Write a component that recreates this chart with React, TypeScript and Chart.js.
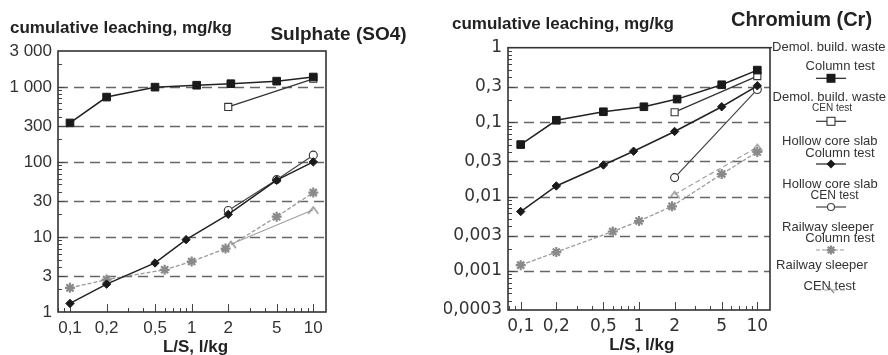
import React, { useEffect, useRef } from "react";
import { Chart, registerables } from "chart.js";
Chart.register(...registerables);

// ---------- data ----------
const xTickValues = [0.1, 0.2, 0.5, 1, 2, 5, 10];
const xTickLabels = ["0,1", "0,2", "0,5", "1", "2", "5", "10"];

const so4TickValues = [1, 3, 10, 30, 100, 300, 1000, 3000];
const so4TickLabels = ["1", "3", "10", "30", "100", "300", "1 000", "3 000"];
const crTickValues = [0.0003, 0.001, 0.003, 0.01, 0.03, 0.1, 0.3, 1];
const crTickLabels = ["0,0003", "0,001", "0,003", "0,01", "0,03", "0,1", "0,3", "1"];

const seriesNames = [
  "Demol. build. waste Column test",
  "Demol. build. waste CEN test",
  "Hollow core slab Column test",
  "Hollow core slab CEN test",
  "Railway sleeper Column test",
  "Railway sleeper CEN test",
];

// Sulphate (SO4), mg/kg
const so4DemolColumnX = [0.1, 0.2, 0.5, 1.1, 2.1, 5, 10];
const so4DemolColumnY = [330, 730, 990, 1050, 1100, 1190, 1350];
const so4DemolCenX = [2, 10];
const so4DemolCenY = [540, 1280];
const so4HollowColumnX = [0.1, 0.2, 0.5, 0.9, 2, 5, 10];
const so4HollowColumnY = [1.3, 2.35, 4.5, 9.2, 20, 57, 100];
const so4HollowCenX = [2, 5, 10];
const so4HollowCenY = [22.5, 58, 123];
const so4RailColumnX = [0.1, 0.2, 0.6, 1, 1.9, 5, 10];
const so4RailColumnY = [2.1, 2.7, 3.65, 4.7, 7.0, 18.6, 39];
const so4RailCenX = [2.1, 10];
const so4RailCenY = [8, 23];

// Chromium (Cr), mg/kg
const crDemolColumnX = [0.1, 0.2, 0.5, 1.1, 2.1, 5, 10];
const crDemolColumnY = [0.05, 0.106, 0.138, 0.161, 0.204, 0.318, 0.5];
const crDemolCenX = [2, 10];
const crDemolCenY = [0.136, 0.416];
const crHollowColumnX = [0.1, 0.2, 0.5, 0.9, 2, 5, 10];
const crHollowColumnY = [0.0063, 0.0139, 0.0266, 0.0407, 0.075, 0.161, 0.308];
const crHollowCenX = [2, 10];
const crHollowCenY = [0.018, 0.275];
const crRailColumnX = [0.1, 0.2, 0.6, 1, 1.9, 5, 10];
const crRailColumnY = [0.0012, 0.0018, 0.0034, 0.0047, 0.0074, 0.0201, 0.0398];
const crRailCenX = [2, 10];
const crRailCenY = [0.0107, 0.046];

const legendTexts = [
  ["Demol. build. waste", "Column test"],
  ["Demol. build. waste", "CEN test"],
  ["Hollow core slab", "Column test"],
  ["Hollow core slab", "CEN test"],
  ["Railway sleeper", "Column test"],
  ["Railway sleeper", "CEN test"],
];

// ---------- helpers ----------
const FONT = '"Liberation Sans", Arial, Helvetica, sans-serif';
const WIDE = '"DejaVu Sans", "Liberation Sans", sans-serif';

function zip(xs: number[], ys: number[]) {
  return xs.map((x, i) => ({ x, y: ys[i] }));
}

function makeTri(color: string) {
  const c = document.createElement("canvas");
  c.width = 12;
  c.height = 12;
  const g = c.getContext("2d")!;
  g.strokeStyle = color;
  g.lineWidth = 1.3;
  g.beginPath();
  g.moveTo(1, 10);
  g.lineTo(6, 3);
  g.lineTo(11, 10);
  g.stroke();
  return c;
}

function styles(railCenDash: number[]) {
  return [
    { pointStyle: "rect", pointRadius: 5.4, pointBackgroundColor: "#1a1a1a", pointBorderColor: "#1a1a1a", pointBorderWidth: 1, borderColor: "#222", borderWidth: 1.5, borderDash: [] as number[] },
    { pointStyle: "rect", pointRadius: 5, pointBackgroundColor: "#ffffff", pointBorderColor: "#333", pointBorderWidth: 1.1, borderColor: "#333", borderWidth: 1.3, borderDash: [] as number[] },
    { pointStyle: "rectRot", pointRadius: 4.2, pointBackgroundColor: "#1a1a1a", pointBorderColor: "#1a1a1a", pointBorderWidth: 1, borderColor: "#222", borderWidth: 1.5, borderDash: [] as number[] },
    { pointStyle: "circle", pointRadius: 4, pointBackgroundColor: "#ffffff", pointBorderColor: "#333", pointBorderWidth: 1.1, borderColor: "#444", borderWidth: 1.2, borderDash: [] as number[] },
    { pointStyle: "star", pointRadius: 5, pointBackgroundColor: "#8a8a8a", pointBorderColor: "#8a8a8a", pointBorderWidth: 2.2, borderColor: "#9a9a9a", borderWidth: 1.3, borderDash: [4, 2] },
    { pointStyle: makeTri("#8a8a8a") as any, pointRadius: 5, pointBackgroundColor: "#8a8a8a", pointBorderColor: "#8a8a8a", pointBorderWidth: 1, borderColor: "#a0a0a0", borderWidth: 1.2, borderDash: railCenDash },
  ];
}

function makeDatasets(series: { x: number; y: number }[][], railCenDash: number[]) {
  const st = styles(railCenDash);
  return series.map((data, i) => ({
    label: seriesNames[i],
    data,
    ...st[i],
    fill: false,
    tension: 0,
    clip: false as any,
  }));
}

function framePlugin(yTicks: number[]) {
  return {
    id: "frame",
    beforeDatasetsDraw(chart: any) {
      const { ctx, chartArea } = chart;
      const { left, right, top, bottom } = chartArea;
      const xs = chart.scales.x;
      const ys = chart.scales.y;
      ctx.save();
      // dashed gridlines at inner major ticks
      ctx.strokeStyle = "#666";
      ctx.lineWidth = 1.5;
      ctx.setLineDash([10, 6]);
      yTicks.forEach((v, i) => {
        if (i === 0 || i === yTicks.length - 1) return;
        const py = Math.round(ys.getPixelForValue(v)) + 0.5;
        ctx.beginPath();
        ctx.moveTo(left, py);
        ctx.lineTo(right, py);
        ctx.stroke();
      });
      ctx.setLineDash([]);
      // minor / major ticks
      ctx.strokeStyle = "#444";
      ctx.lineWidth = 1;
      for (let n = -5; n <= 4; n++) {
        for (let k = 1; k <= 9; k++) {
          const v = k * Math.pow(10, n);
          if (v > xs.min && v < xs.max) {
            const major = xTickValues.some((t) => Math.abs(t - v) / v < 1e-6);
            const px = Math.round(xs.getPixelForValue(v)) + 0.5;
            ctx.beginPath();
            ctx.moveTo(px, bottom);
            ctx.lineTo(px, bottom - (major ? 8 : 4));
            ctx.stroke();
          }
          if (v > ys.min * 1.0001 && v < ys.max * 0.9999) {
            const major = yTicks.some((t) => Math.abs(t - v) / v < 1e-6);
            const py = Math.round(ys.getPixelForValue(v)) + 0.5;
            ctx.beginPath();
            ctx.moveTo(left, py);
            ctx.lineTo(left + (major ? 7 : 4), py);
            ctx.stroke();
          }
        }
      }
      // box
      ctx.strokeStyle = "#333";
      ctx.lineWidth = 1.6;
      ctx.strokeRect(left, top, right - left, bottom - top);
      ctx.restore();
    },
  };
}

type TextItem = { text: string; x: number; y: number; font: string; align?: CanvasTextAlign; color?: string };

function textPlugin(items: TextItem[], extra?: (ctx: CanvasRenderingContext2D, chart: any) => void) {
  return {
    id: "texts",
    afterDraw(chart: any) {
      const ctx: CanvasRenderingContext2D = chart.ctx;
      ctx.save();
      ctx.textBaseline = "middle";
      items.forEach((it) => {
        ctx.font = it.font;
        ctx.fillStyle = it.color || "#222";
        ctx.textAlign = it.align || "left";
        ctx.fillText(it.text, it.x, it.y);
      });
      if (extra) extra(ctx, chart);
      ctx.restore();
    },
  };
}

function drawMarker(ctx: CanvasRenderingContext2D, kind: number, x: number, y: number) {
  ctx.save();
  ctx.setLineDash([]);
  if (kind === 0) {
    ctx.fillStyle = "#1a1a1a";
    ctx.fillRect(x - 4.5, y - 4.5, 9, 9);
  } else if (kind === 1) {
    ctx.fillStyle = "#fff";
    ctx.strokeStyle = "#333";
    ctx.lineWidth = 1.1;
    ctx.fillRect(x - 4, y - 4, 8, 8);
    ctx.strokeRect(x - 4, y - 4, 8, 8);
  } else if (kind === 2) {
    ctx.fillStyle = "#1a1a1a";
    ctx.beginPath();
    ctx.moveTo(x, y - 4.5);
    ctx.lineTo(x + 4.5, y);
    ctx.lineTo(x, y + 4.5);
    ctx.lineTo(x - 4.5, y);
    ctx.closePath();
    ctx.fill();
  } else if (kind === 3) {
    ctx.fillStyle = "#fff";
    ctx.strokeStyle = "#444";
    ctx.lineWidth = 1.1;
    ctx.beginPath();
    ctx.arc(x, y, 3.5, 0, Math.PI * 2);
    ctx.fill();
    ctx.stroke();
  } else if (kind === 4) {
    ctx.strokeStyle = "#8a8a8a";
    ctx.lineWidth = 2.2;
    for (let i = 0; i < 4; i++) {
      const a = (i * Math.PI) / 4;
      ctx.beginPath();
      ctx.moveTo(x - Math.cos(a) * 4.5, y - Math.sin(a) * 4.5);
      ctx.lineTo(x + Math.cos(a) * 4.5, y + Math.sin(a) * 4.5);
      ctx.stroke();
    }
  } else {
    ctx.strokeStyle = "#8a8a8a";
    ctx.lineWidth = 1.2;
    ctx.beginPath();
    ctx.moveTo(x - 3, y - 4);
    ctx.lineTo(x + 3, y + 3);
    ctx.stroke();
  }
  ctx.restore();
}

function makeConfig(opts: {
  datasets: any[];
  yMin: number;
  yMax: number;
  xMin: number;
  xMax: number;
  yTicks: number[];
  yLabels: string[];
  yWidth: number;
  xHeight: number;
  top: number;
  tickFont: string;
  plugins: any[];
}) {
  return {
    type: "line" as const,
    data: { datasets: opts.datasets },
    options: {
      animation: false as const,
      responsive: false,
      devicePixelRatio: 1,
      layout: { padding: { left: 0, right: 118, top: opts.top, bottom: 0 } },
      plugins: { legend: { display: false }, tooltip: { enabled: false }, title: { display: false } },
      scales: {
        x: {
          type: "logarithmic" as const,
          min: opts.xMin,
          max: opts.xMax,
          grid: { display: false, drawTicks: false },
          border: { display: false },
          afterBuildTicks: (s: any) => {
            s.ticks = xTickValues.map((v) => ({ value: v }));
          },
          afterFit: (s: any) => {
            s.height = opts.xHeight;
          },
          ticks: {
            autoSkip: false,
            maxRotation: 0,
            padding: 6,
            color: "#333",
            font: { family: opts.tickFont, size: 17 },
            callback: (_v: any, i: number) => xTickLabels[i],
          },
        },
        y: {
          type: "logarithmic" as const,
          min: opts.yMin,
          max: opts.yMax,
          grid: { display: false, drawTicks: false },
          border: { display: false },
          afterBuildTicks: (s: any) => {
            s.ticks = opts.yTicks.map((v) => ({ value: v }));
          },
          afterFit: (s: any) => {
            s.width = opts.yWidth;
          },
          ticks: {
            autoSkip: false,
            padding: 6,
            color: "#333",
            font: { family: opts.tickFont, size: 17 },
            callback: (_v: any, i: number) => opts.yLabels[i],
          },
        },
      },
    },
    plugins: opts.plugins,
  };
}

export default function App() {
  const leftRef = useRef<HTMLCanvasElement>(null);
  const rightRef = useRef<HTMLCanvasElement>(null);

  useEffect(() => {
    const so4Series = [
      zip(so4DemolColumnX, so4DemolColumnY),
      zip(so4DemolCenX, so4DemolCenY),
      zip(so4HollowColumnX, so4HollowColumnY),
      zip(so4HollowCenX, so4HollowCenY),
      zip(so4RailColumnX, so4RailColumnY),
      zip(so4RailCenX, so4RailCenY),
    ];
    const crSeries = [
      zip(crDemolColumnX, crDemolColumnY),
      zip(crDemolCenX, crDemolCenY),
      zip(crHollowColumnX, crHollowColumnY),
      zip(crHollowCenX, crHollowCenY),
      zip(crRailColumnX, crRailColumnY),
      zip(crRailCenX, crRailCenY),
    ];

    const left = new Chart(
      leftRef.current!,
      makeConfig({
        datasets: makeDatasets(so4Series, []),
        yMin: 1,
        yMax: 3000,
        xMin: 0.0797,
        xMax: 12.72,
        yTicks: so4TickValues,
        yLabels: so4TickLabels,
        yWidth: 58,
        xHeight: 43,
        top: 51,
        tickFont: FONT,
        plugins: [
          framePlugin(so4TickValues),
          textPlugin([
            { text: "cumulative leaching, mg/kg", x: 10, y: 28, font: `bold 17px ${FONT}` },
            { text: "Sulphate (SO4)", x: 338.5, y: 35, font: `bold 19px ${FONT}`, align: "center" },
            { text: "L/S, l/kg", x: 195.5, y: 347, font: `bold 17px ${FONT}`, align: "center" },
          ]),
        ],
      }) as any
    );

    const legendRows: { line: number; ys: number[]; xs: number[]; fonts: string[]; sample: number }[] = [
      { line: 0, ys: [47.3, 66.7], xs: [828.8, 840.3], fonts: [`13px ${FONT}`, `13px ${FONT}`], sample: 78.3 },
      { line: 1, ys: [97.7, 107.8], xs: [829.3, 832], fonts: [`13px ${FONT}`, `10px ${FONT}`], sample: 121.3 },
      { line: 2, ys: [141, 153.3], xs: [829.8, 840], fonts: [`13px ${FONT}`, `13px ${FONT}`], sample: 164 },
      { line: 3, ys: [184, 195.7], xs: [830, 834.5], fonts: [`13px ${FONT}`, `12px ${FONT}`], sample: 207 },
      { line: 4, ys: [227, 238.7], xs: [828, 840], fonts: [`13px ${FONT}`, `13px ${FONT}`], sample: 250 },
      { line: 5, ys: [265.7, 286], xs: [822, 829.5], fonts: [`13px ${FONT}`, `13px ${FONT}`], sample: 290 },
    ];

    const right = new Chart(
      rightRef.current!,
      makeConfig({
        datasets: makeDatasets(crSeries, [5, 3]),
        yMin: 0.0003,
        yMax: 1,
        xMin: 0.0781,
        xMax: 12.8,
        yTicks: crTickValues,
        yLabels: crTickLabels,
        yWidth: 64,
        xHeight: 45,
        top: 47.7,
        tickFont: WIDE,
        plugins: [
          framePlugin(crTickValues),
          textPlugin(
            [
              { text: "cumulative leaching, mg/kg", x: 8, y: 24, font: `bold 17px ${FONT}` },
              { text: "Chromium (Cr)", x: 357.5, y: 20, font: `bold 20px ${FONT}`, align: "center" },
              { text: "L/S, l/kg", x: 197.8, y: 345, font: `bold 17px ${FONT}`, align: "center" },
            ],
            (ctx, chart) => {
              const ds = chart.data.datasets;
              legendRows.forEach((row) => {
                const texts = legendTexts[row.line];
                ctx.fillStyle = "#333";
                ctx.textAlign = "center";
                ctx.textBaseline = "middle";
                texts.forEach((t, j) => {
                  ctx.font = row.fonts[j];
                  ctx.fillText(t, row.xs[j] - 444, row.ys[j]);
                });
                const d = ds[row.line];
                ctx.save();
                ctx.strokeStyle = d.borderColor;
                ctx.lineWidth = 1.2;
                ctx.setLineDash(d.borderDash || []);
                ctx.beginPath();
                ctx.moveTo(816 - 444, row.sample);
                ctx.lineTo(846 - 444, row.sample);
                ctx.stroke();
                ctx.restore();
                drawMarker(ctx, row.line, 831 - 444, row.sample);
              });
              // short joint from frame corner to first legend label
              ctx.strokeStyle = "#333";
              ctx.lineWidth = 1.2;
              ctx.beginPath();
              ctx.moveTo(chart.chartArea.right, chart.chartArea.top);
              ctx.lineTo(772 - 444, chart.chartArea.top);
              ctx.stroke();
            }
          ),
        ],
      }) as any
    );

    return () => {
      left.destroy();
      right.destroy();
    };
  }, []);

  return (
    <div style={{ position: "fixed", left: 0, top: 0, width: 888, height: 355, background: "#fff" }}>
      <canvas ref={leftRef} width={444} height={355} style={{ position: "absolute", left: 0, top: 0, width: 444, height: 355 }} />
      <canvas ref={rightRef} width={444} height={355} style={{ position: "absolute", left: 444, top: 0, width: 444, height: 355 }} />
    </div>
  );
}
